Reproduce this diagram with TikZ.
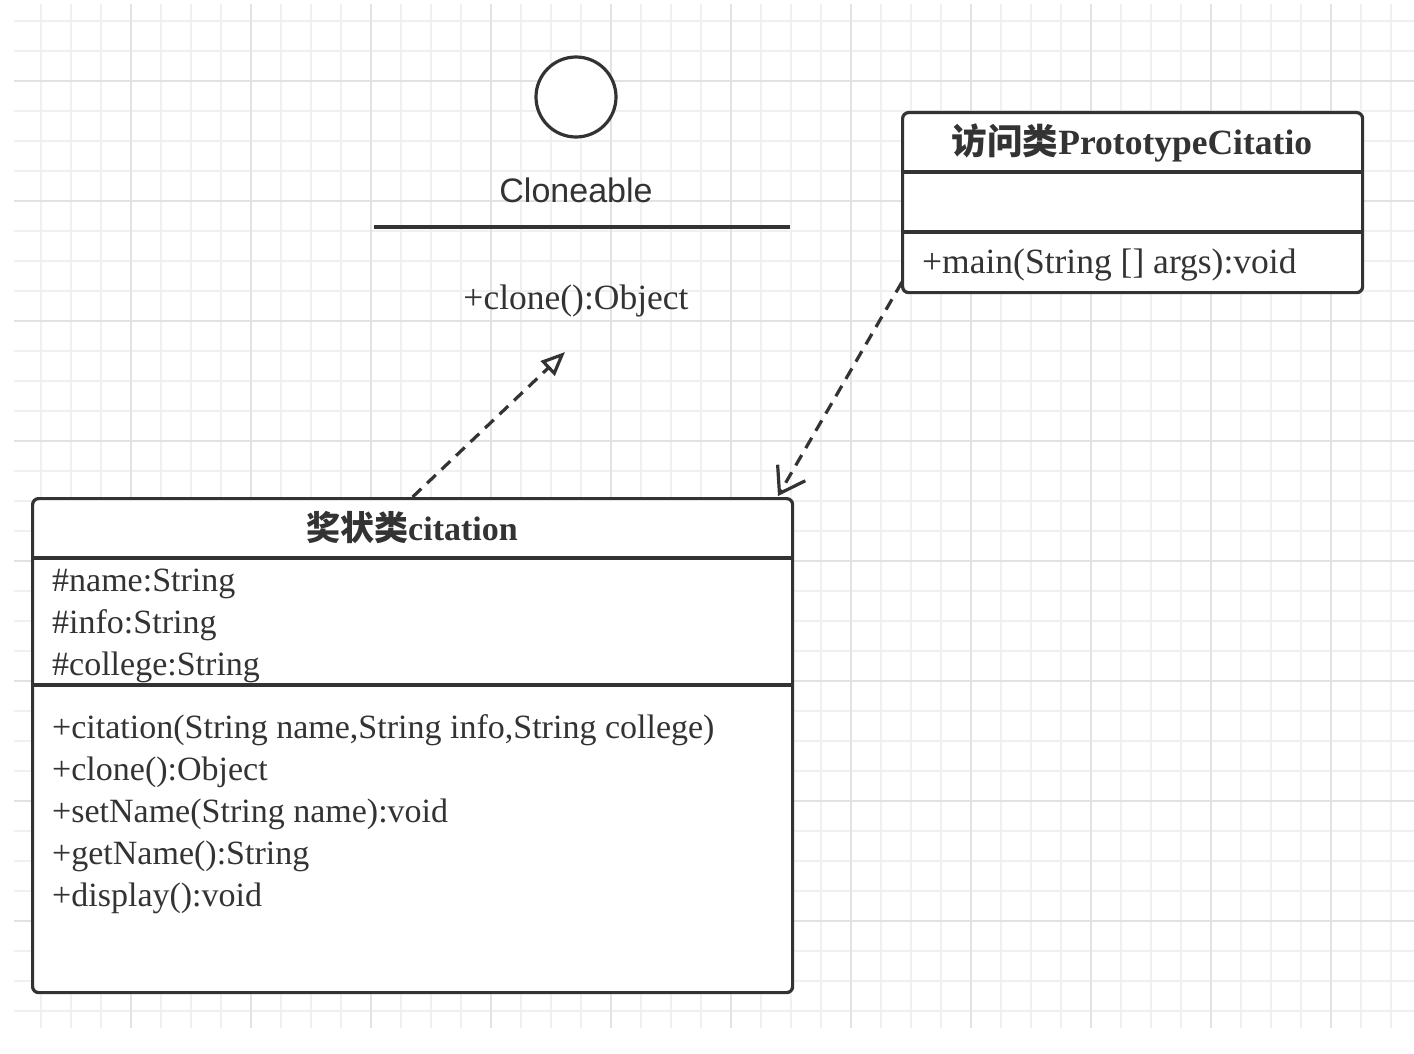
\documentclass[tikz,border=0pt]{standalone}
\usepackage{fontspec}
\setmainfont{Liberation Serif}
\newfontfamily\cjk{Noto Sans CJK SC}
\newfontfamily\lsans{Liberation Sans}
\usetikzlibrary{arrows.meta}
\definecolor{ink}{HTML}{333333}
\definecolor{gridminor}{HTML}{F0F0F0}
\definecolor{gridmajor}{HTML}{E2E2E2}
\begin{document}
\begin{tikzpicture}[x=1pt,y=-1pt,
  txt/.style={inner sep=0pt, text=ink, font=\fontsize{34}{42}\selectfont},
  ttl/.style={inner sep=0pt, text=ink, font=\fontsize{34}{42}\selectfont\bfseries},
  classbox/.style={draw=ink, fill=white, line width=3.2pt, rounded corners=6pt, inner sep=0pt},
  sep/.style={draw=ink, line width=3.2pt},
  dep/.style={draw=ink, line width=3.2pt, dash pattern=on 12pt off 8pt},
]
\useasboundingbox (0,0) rectangle (1414,1054);
\fill[white] (0,0) rectangle (1414,1054);
% grid
\foreach \x in {41,71,...,1391} \draw[gridminor, line width=1.3pt] (\x,4) -- (\x,1028);
\foreach \y in {21,51,...,1011} \draw[gridminor, line width=1.3pt] (14,\y) -- (1414,\y);
\foreach \x in {131,251,...,1331} \draw[gridmajor, line width=1.5pt] (\x,4) -- (\x,1028);
\foreach \y in {81,201,...,921} \draw[gridmajor, line width=1.5pt] (14,\y) -- (1414,\y);

% interface Cloneable
\node[draw=ink, fill=white, line width=3.2pt, circle, minimum size=80pt, inner sep=0pt] (iface) at (576,97) {};
\node[inner sep=0pt, text=ink, font=\lsans\fontsize{34}{42}\selectfont, anchor=base] (ifname) at (576,202) {Cloneable};
\coordinate (ifl) at (374,227);
\coordinate (ifr) at (790,227);
\draw[sep] (ifl) -- (ifr);
\node[txt, font=\fontsize{35.5}{42}\selectfont, anchor=base] (ifop) at (576,309) {+clone():Object};
\coordinate (iftip) at (565,352);

% class PrototypeCitatio
\node[classbox, anchor=north west, minimum width=460pt, minimum height=180pt] (proto) at (901,111) {};
\draw[sep] (proto.west |- 0,172) -- (proto.east |- 0,172);
\draw[sep] (proto.west |- 0,232) -- (proto.east |- 0,232);
\node[ttl, font=\fontsize{35.5}{42}\selectfont\bfseries, anchor=base] (protot) at (1132,154) {{\cjk\bfseries 访问类}PrototypeCitatio};
\node[txt, font=\fontsize{35.5}{42}\selectfont, anchor=base west] (protom) at (922,273) {+main(String [] args):void};

% class citation
\node[classbox, anchor=north west, minimum width=760pt, minimum height=494pt] (cit) at (31,497) {};
\draw[sep] (cit.west |- 0,558) -- (cit.east |- 0,558);
\draw[sep] (cit.west |- 0,685) -- (cit.east |- 0,685);
\node[ttl, anchor=base] (citt) at (412,540) {{\cjk\bfseries 奖状类}citation};
\node[txt, anchor=base west] (a1) at (52,591) {\#name:String};
\node[txt, anchor=base west] (a2) at (52,633) {\#info:String};
\node[txt, anchor=base west] (a3) at (52,675) {\#college:String};
\node[txt, anchor=base west] (m1) at (52,738) {+citation(String name,String info,String college)};
\node[txt, anchor=base west] (m2) at (52,780) {+clone():Object};
\node[txt, anchor=base west] (m3) at (52,822) {+setName(String name):void};
\node[txt, anchor=base west] (m4) at (52,864) {+getName():String};
\node[txt, anchor=base west] (m5) at (52,906) {+display():void};

% connectors
\draw[dep, -{Triangle[open, fill=white, length=24pt, width=20pt, line width=3.2pt]}] (cit.north) -- (iftip);
\coordinate (pstart) at (902,282);
\coordinate (cend) at (778,496);
\draw[dep, -{Straight Barb[length=24pt, width=32pt, line width=3.2pt]}] (pstart) -- (cend);
\end{tikzpicture}
\end{document}
